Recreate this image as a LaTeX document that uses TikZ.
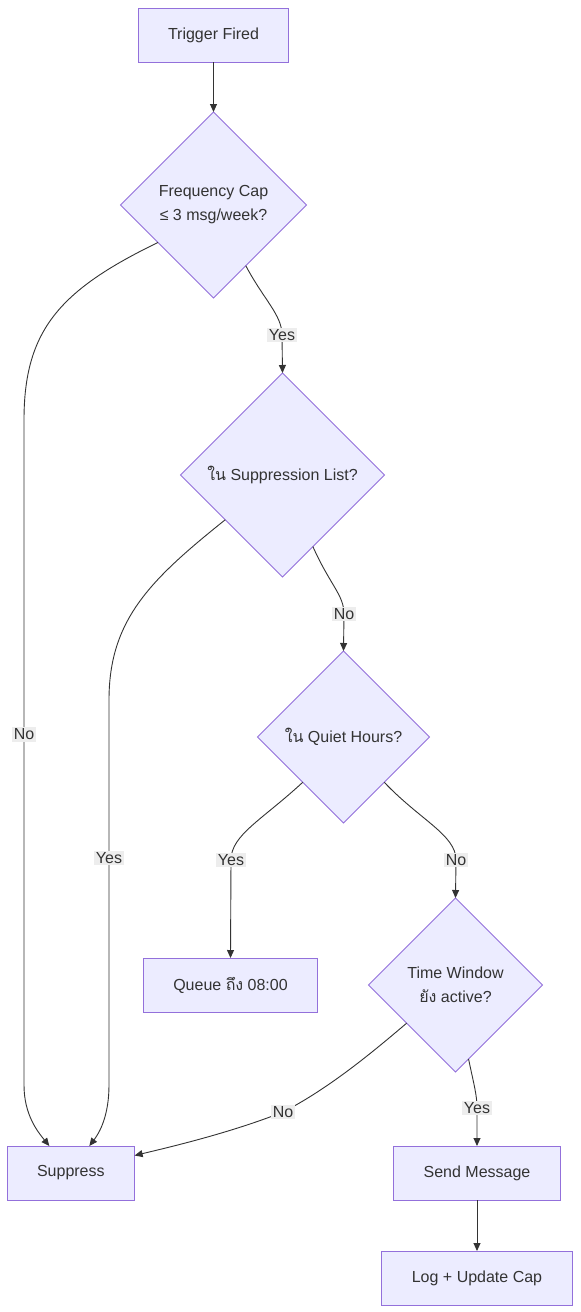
\documentclass[tikz,border=0pt]{standalone}
\usepackage{fontspec}
\setmainfont{Liberation Sans}
\newfontfamily\thaifont[Script=Thai]{Loma}
\newcommand{\thtxt}[1]{{\thaifont #1}}
\usepackage{xcolor}
\usetikzlibrary{shapes.geometric,arrows.meta,positioning,calc}

\definecolor{nodefill}{HTML}{ECECFF}
\definecolor{nodeline}{HTML}{9370DB}
\definecolor{edgeline}{HTML}{333333}
\definecolor{labelfill}{HTML}{EDEDED}

\begin{document}
\begin{tikzpicture}[
    x=1pt, y=-1pt,
    >={Triangle[length=8pt,width=7pt]},
    font=\fontsize{16}{24}\selectfont,
    text=edgeline,
    block/.style={rectangle, draw=nodeline, fill=nodefill, line width=1pt, inner xsep=30pt, minimum height=54pt, outer sep=0pt},
    decision/.style={diamond, draw=nodeline, fill=nodefill, line width=0.8pt, aspect=1, inner sep=0pt, align=center, outer sep=0pt},
    flow/.style={->, draw=edgeline, line width=0.9pt},
    lbl/.style={fill=labelfill, inner sep=1.5pt, text=edgeline}
]
\useasboundingbox (0,0) rectangle (581,1312);

% Start
\node [block] (start) at (213.5,35) {Trigger Fired};

% Frequency cap check
\node [decision, minimum size=186pt, below=50pt of start] (freqcap) {Frequency Cap\\≤ 3 msg/week?};

% Suppression list check
\node [decision, minimum size=204pt, below=75pt of freqcap, xshift=69pt] (supplist) {\thtxt{ใน} Suppression List?};

% Quiet hours check
\node [decision, minimum size=172pt, below=74pt of supplist, xshift=61pt] (quiet) {\thtxt{ใน} Quiet Hours?};

% Time window check
\node [decision, minimum size=174pt, below=75pt of quiet, xshift=112pt] (timewin) {Time Window\\\thtxt{ยัง} active?};

% Queue
\node [block, below=135pt of quiet, xshift=-113pt] (queue) {Queue \thtxt{ถึง} 08:00};

% Send
\node [block, below=74pt of timewin, xshift=21.5pt] (send) {Send Message};

% Log
\node [block, below=51pt of send] (logcap) {Log + Update Cap};

% Suppress
\node [block, left=259pt of send] (suppress) {Suppress};

% Connections
\draw [flow] (start) -- (freqcap);
\draw [flow] (freqcap.-62) .. controls (264,300) and (282,315) .. node[lbl, pos=1] {Yes} (282,335) -- (supplist.north);
\draw [flow] (freqcap.214) .. controls (60,290) and (24,330) .. (24,420) -- node[lbl, pos=0.473] {No} (24,1085) .. controls (24,1115) and (38,1132) .. ([xshift=-21.5pt]suppress.north);
\draw [flow] (supplist.-67) .. controls (330,585) and (344,595) .. node[lbl, pos=1] {No} (344,614) -- (quiet.north);
\draw [flow] (supplist.218) .. controls (150,580) and (109,620) .. (109,700) -- node[lbl, pos=0.41] {Yes} (109,1085) .. controls (109,1115) and (100,1132) .. ([xshift=18.5pt]suppress.north);
\draw [flow] (quiet.228) .. controls (262,820) and (231,835) .. node[lbl, pos=1] {Yes} (231,860) -- (queue.north);
\draw [flow] (quiet.-48) .. controls (420,820) and (456,835) .. node[lbl, pos=1] {No} (456,860) -- (timewin.north);
\draw [flow] (timewin.218) .. controls (375,1050) and (330,1088) .. node[lbl, pos=1] {No} (283,1112) .. controls (230,1133) and (170,1147) .. ([yshift=17.5pt]suppress.east);
\draw [flow] (timewin.-80) .. controls (474,1085) and (477,1095) .. node[lbl, pos=1] {Yes} (477,1108) -- (send.north);
\draw [flow] (send) -- (logcap);

\end{tikzpicture}
\end{document}
